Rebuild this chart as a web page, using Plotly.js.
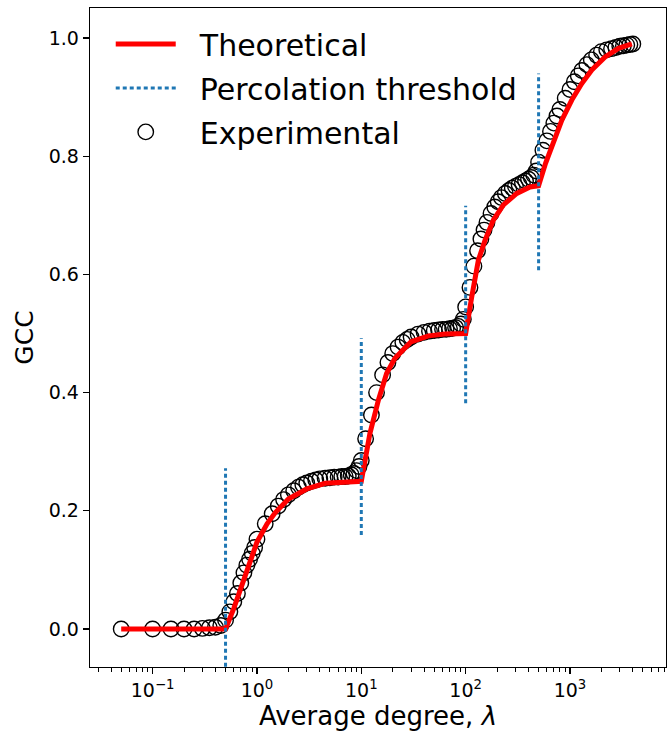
<!DOCTYPE html>
<html><head><meta charset="utf-8">
<script src="https://cdn.plot.ly/plotly-3.0.1.min.js"></script>
<style>body{margin:0;padding:0;background:#fff}</style>
</head><body><div id="chart" style="width:670px;height:735px"></div>
<script>
// Theoretical curve
const theoryLambda = [0.05, 0.5, 0.6, 0.7, 0.8, 0.9, 1.0, 1.25, 1.5, 2, 3, 4.5, 6.5, 10, 12.1, 14.6, 17.5, 21, 30, 44, 63.5, 100, 114.4, 132.4, 153.5, 184.5, 230, 309, 414, 500, 583, 701, 835, 1040, 1297, 1618, 2171, 2911, 3917];
const theoryGCC = [0, 0, 0.035, 0.067, 0.095, 0.12, 0.147, 0.178, 0.197, 0.22, 0.237, 0.2465, 0.249, 0.25, 0.331, 0.3875, 0.4327, 0.458, 0.486, 0.496, 0.499, 0.5, 0.562, 0.624, 0.658, 0.692, 0.7175, 0.737, 0.748, 0.75, 0.788, 0.827, 0.861, 0.895, 0.923, 0.946, 0.968, 0.9826, 0.99];

// Experimental points
const expLambda = [0.05,0.1,0.15,0.2,0.25,0.3,0.35,0.4,0.45,0.5,
  0.55,0.6,0.65,0.7,0.75,0.8,0.85,0.9,0.95,1.0,
  1.2,1.4,1.6,1.8,2.0,2.25,2.5,2.75,3.0,3.33,3.66,4.0,4.5,5.0,5.5,6.0,6.5,7.0,7.5,8.0,8.5,9.0,9.5,10,
  11,12.5,14,16,18,20,22.5,25,27.5,30,35,40,45,50,55,60,65,70,75,80,85,90,95,100,
  110,120,130,140,150,160,175,190,205,220,240,260,280,300,325,350,375,400,425,450,475,500,
  550,600,650,700,750,800,900,1000,1100,1200,1300,1450,1600,1800,2000,2250,2500,2750,3000,3250,3500,3750,4000];
const expGCC = [0,0,0,0,0,0.001,0.002,0.003,0.006,0.015,
  0.029,0.046,0.06,0.078,0.095,0.108,0.118,0.128,0.138,0.152,
  0.178,0.195,0.208,0.219,0.227,0.234,0.24,0.244,0.247,0.25,0.252,0.254,0.255,0.256,0.257,0.257,0.258,0.258,0.259,0.261,0.263,0.268,0.275,0.285,
  0.322,0.362,0.4,0.43,0.451,0.466,0.477,0.485,0.49,0.494,0.499,0.502,0.504,0.505,0.506,0.507,0.507,0.508,0.509,0.51,0.512,0.516,0.524,0.545,
  0.578,0.614,0.64,0.66,0.675,0.688,0.703,0.714,0.723,0.73,0.737,0.742,0.746,0.749,0.752,0.755,0.758,0.761,0.764,0.768,0.775,0.79,
  0.81,0.826,0.842,0.856,0.868,0.879,0.898,0.913,0.926,0.936,0.945,0.955,0.963,0.971,0.977,0.98,0.982,0.984,0.986,0.987,0.988,0.989,0.99];

// Percolation thresholds and the vertical extent of their markers
const thresholdLambda = [0.5, 10, 100, 500];
const thresholdLow = [-0.064, 0.159, 0.382, 0.607];
const thresholdHigh = [0.272, 0.492, 0.716, 0.940];

// Tick labels
const xTickVals = [0.1, 1, 10, 100, 1000];
const xTickText = ['10<sup>\u22121</sup>', '10<sup>0</sup>', '10<sup>1</sup>', '10<sup>2</sup>', '10<sup>3</sup>'];
const yTickVals = [0, 0.2, 0.4, 0.6, 0.8, 1.0];
const yTickText = ['0.0', '0.2', '0.4', '0.6', '0.8', '1.0'];

const minorVals = [];
[0.01, 0.1, 1, 10, 100, 1000].forEach(d => { for (let m = 2; m <= 9; m++) minorVals.push(d * m); });

const FONT = 'DejaVu Sans, Verdana, sans-serif';
const PAD = '\u00a0\u00a0';
const traces = [];
traces.push({
  x: expLambda, y: expGCC, mode: 'markers', type: 'scatter', name: PAD + 'Experimental',
  legendrank: 3, legendgroup: 'exp',
  marker: {symbol: 'circle-open', size: 15.5, color: 'black', line: {width: 1.4, color: 'black'}}
});
traces.push({
  x: theoryLambda, y: theoryGCC, mode: 'lines', type: 'scatter', name: PAD + 'Theoretical',
  legendrank: 1, legendgroup: 'th',
  line: {color: '#ff0000', width: 5}
});
thresholdLambda.forEach((t, i) => {
  traces.push({
    x: [t, t], y: [thresholdLow[i], thresholdHigh[i]], mode: 'lines', type: 'scatter',
    name: PAD + 'Percolation threshold', legendgroup: 'thr', showlegend: i === 0, legendrank: 2,
    line: {color: '#1f77b4', width: 3, dash: '4px,3px'}
  });
});

const layout = {
  width: 670, height: 735,
  margin: {l: 90, r: 4, t: 8, b: 68},
  paper_bgcolor: '#fff', plot_bgcolor: '#fff',
  font: {family: FONT, color: '#000', size: 19},
  showlegend: true,
  legend: {x: 0.036, y: 0.985, xanchor: 'left', yanchor: 'top', bgcolor: 'rgba(255,255,255,0)',
    font: {family: FONT, size: 30, color: '#000'}, itemwidth: 60,
    traceorder: 'grouped', tracegroupgap: 2},
  xaxis: {
    type: 'log', range: [-1.6, 3.92],
    tickmode: 'array', tickvals: xTickVals, ticktext: xTickText,
    ticks: 'outside', ticklen: 6, tickwidth: 1.2, tickcolor: '#000',
    showgrid: false, zeroline: false,
    showline: true, mirror: true, linecolor: '#000', linewidth: 1.3,
    tickfont: {family: FONT, size: 19},
    minor: {tickmode: 'array', tickvals: minorVals, ticks: 'outside', ticklen: 3.5, tickwidth: 1, tickcolor: '#000', showgrid: false},
    title: {text: 'Average degree, <i>\u03bb</i>', font: {family: FONT, size: 26}, standoff: 6},
    automargin: false
  },
  yaxis: {
    range: [-0.0643, 1.0508],
    tickmode: 'array', tickvals: yTickVals, ticktext: yTickText,
    ticks: 'outside', ticklen: 6, tickwidth: 1.2, tickcolor: '#000',
    showgrid: false, zeroline: false,
    showline: true, mirror: true, linecolor: '#000', linewidth: 1.3,
    tickfont: {family: FONT, size: 19},
    title: {text: 'GCC', font: {family: FONT, size: 25}, standoff: 8},
    automargin: false
  }
};
Plotly.newPlot('chart', traces, layout, {displayModeBar: false, staticPlot: true});
</script>
</body></html>
